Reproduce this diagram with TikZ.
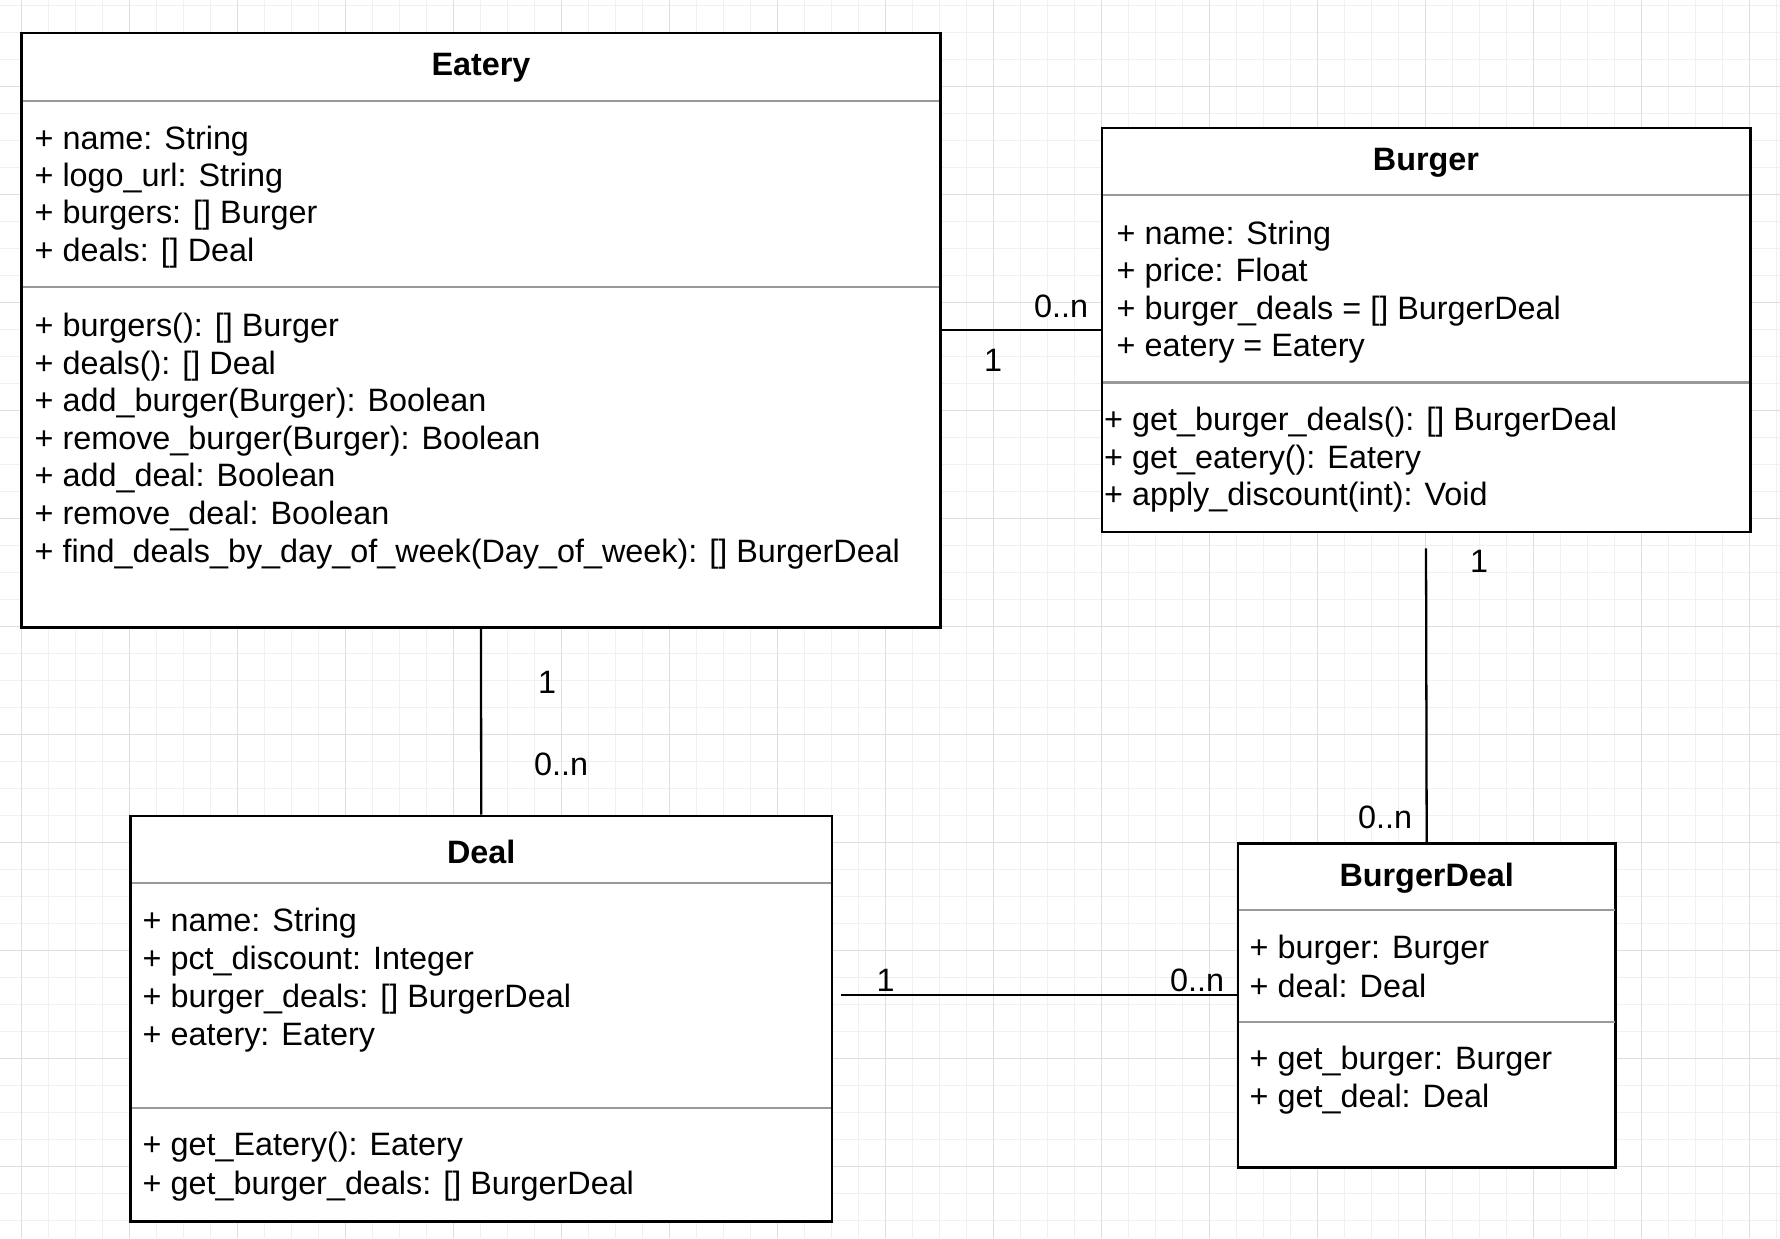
\documentclass[tikz,border=0pt]{standalone}
\usepackage{fontspec}
\setmainfont{Liberation Sans}

\begin{document}
\begin{tikzpicture}[x=0.01cm,y=-0.01cm,
  font=\fontsize{9.2}{11}\selectfont,
  minor/.style={draw=black!6, line width=0.3pt},
  major/.style={draw=black!13, line width=0.35pt},
  cls/.style={draw, line width=0.75pt, fill=white, inner sep=0pt},
  sep/.style={draw=black!40, line width=0.65pt},
  txt/.style={anchor=west, inner sep=0pt, text height=6.6pt, text depth=1.9pt, yshift=-0.034cm},
  ttl/.style={inner sep=0pt, font=\fontsize{9.2}{11}\selectfont\bfseries, yshift=-0.034cm},
  assoc/.style={line width=0.65pt},
  mult/.style={inner sep=0pt, text height=6.6pt, text depth=1.9pt, yshift=-0.034cm}]
\useasboundingbox (0,0) rectangle (1780,1238);
\fill[white] (0,0) rectangle (1780,1238);
% grid
\foreach \x in {21.7,48.7,...,1780} \draw[minor] (\x,0) -- (\x,1238);
\foreach \y in {5.7,32.7,...,1238} \draw[minor] (0,\y) -- (1780,\y);
\foreach \x in {21.7,129.7,...,1780} \draw[major] (\x,0) -- (\x,1238);
\foreach \y in {86.7,194.7,...,1238} \draw[major] (0,\y) -- (1780,\y);
%
\node[cls, minimum width=9.18cm, minimum height=5.94cm] (eatery) at (481,330) {};
\node[ttl] (eatery-t) at (481,64.7) {Eatery};
\draw[sep] (23,101) -- (939,101);
\draw[sep] (23,287.2) -- (939,287.2);
\foreach \t [count=\i] in {{+ name: String},{+ logo\_url: String},
    {+ burgers: [] Burger},{+ deals: [] Deal}}
  \node[txt] (eatery-a\i) at (34,{137.4+37.4*(\i-1)}) {\t};
\foreach \t [count=\i] in {{+ burgers(): [] Burger},{+ deals(): [] Deal},
    {+ add\_burger(Burger): Boolean},{+ remove\_burger(Burger): Boolean},
    {+ add\_deal: Boolean},{+ remove\_deal: Boolean},
    {+ find\_deals\_by\_day\_of\_week(Day\_of\_week): [] BurgerDeal}}
  \node[txt] (eatery-m\i) at (34,{324.7+37.65*(\i-1)}) {\t};
%
\node[cls, minimum width=6.48cm, minimum height=4.04cm] (burger) at (1426,330) {};
\node[ttl] (burger-t) at (1426,159) {Burger};
\draw[sep] (1103,195.3) -- (1749,195.3);
\draw[sep] (1103,382.6) -- (1749,382.6);
\foreach \t [count=\i] in {{+ name: String},{+ price: Float},
    {+ burger\_deals = [] BurgerDeal},{+ eatery = Eatery}}
  \node[txt] (burger-a\i) at (1116,{232.7+37.4*(\i-1)}) {\t};
\foreach \t [count=\i] in {{+ get\_burger\_deals(): [] BurgerDeal},
    {+ get\_eatery(): Eatery},{+ apply\_discount(int): Void}}
  \node[txt] (burger-m\i) at (1103.5,{419+37.4*(\i-1)}) {\t};
%
\node[cls, minimum width=7.015cm, minimum height=4.055cm] (deal) at (481.2,1018.7) {};
\node[ttl] (deal-t) at (481.2,848) {Deal};
\draw[sep] (131.5,883) -- (831,883);
\draw[sep] (131.5,1108) -- (831,1108);
\foreach \t [count=\i] in {{+ name: String},{+ pct\_discount: Integer},
    {+ burger\_deals: [] BurgerDeal},{+ eatery: Eatery}}
  \node[txt] (deal-a\i) at (142,{919.5+38.2*(\i-1)}) {\t};
\foreach \t [count=\i] in {{+ get\_Eatery(): Eatery},
    {+ get\_burger\_deals: [] BurgerDeal}}
  \node[txt] (deal-m\i) at (142,{1144+39*(\i-1)}) {\t};
%
\node[cls, minimum width=3.775cm, minimum height=3.242cm] (burgerdeal) at (1426.7,1005.4) {};
\node[ttl] (burgerdeal-t) at (1426.7,875) {BurgerDeal};
\draw[sep] (1239,910) -- (1614.5,910);
\draw[sep] (1239,1021.7) -- (1614.5,1021.7);
\foreach \t [count=\i] in {{+ burger: Burger},{+ deal: Deal}}
  \node[txt] (burgerdeal-a\i) at (1249,{946.8+38.6*(\i-1)}) {\t};
\foreach \t [count=\i] in {{+ get\_burger: Burger},{+ get\_deal: Deal}}
  \node[txt] (burgerdeal-m\i) at (1249,{1058+37.5*(\i-1)}) {\t};
%
\coordinate (dbd) at (0,994.7);
\draw[assoc] (eatery.east) -- (burger.west);
\draw[assoc] (eatery.south) -- (deal.north);
\draw[assoc] ([yshift=-0.15cm]burger.south) -- (burgerdeal.north);
\draw[assoc] ([xshift=0.075cm]deal.east |- dbd) -- (burgerdeal.west |- dbd);
%
\node[mult] (eb-n) at (1061,305.4) {0..n};
\node[mult] (eb-1) at (993,360) {1};
\node[mult] (ed-1) at (547,682) {1};
\node[mult] (ed-n) at (561,764) {0..n};
\node[mult] (bb-1) at (1479,561) {1};
\node[mult] (bb-n) at (1385,817) {0..n};
\node[mult] (db-1) at (885.5,980) {1};
\node[mult] (db-n) at (1197,979.7) {0..n};
\end{tikzpicture}
\end{document}
